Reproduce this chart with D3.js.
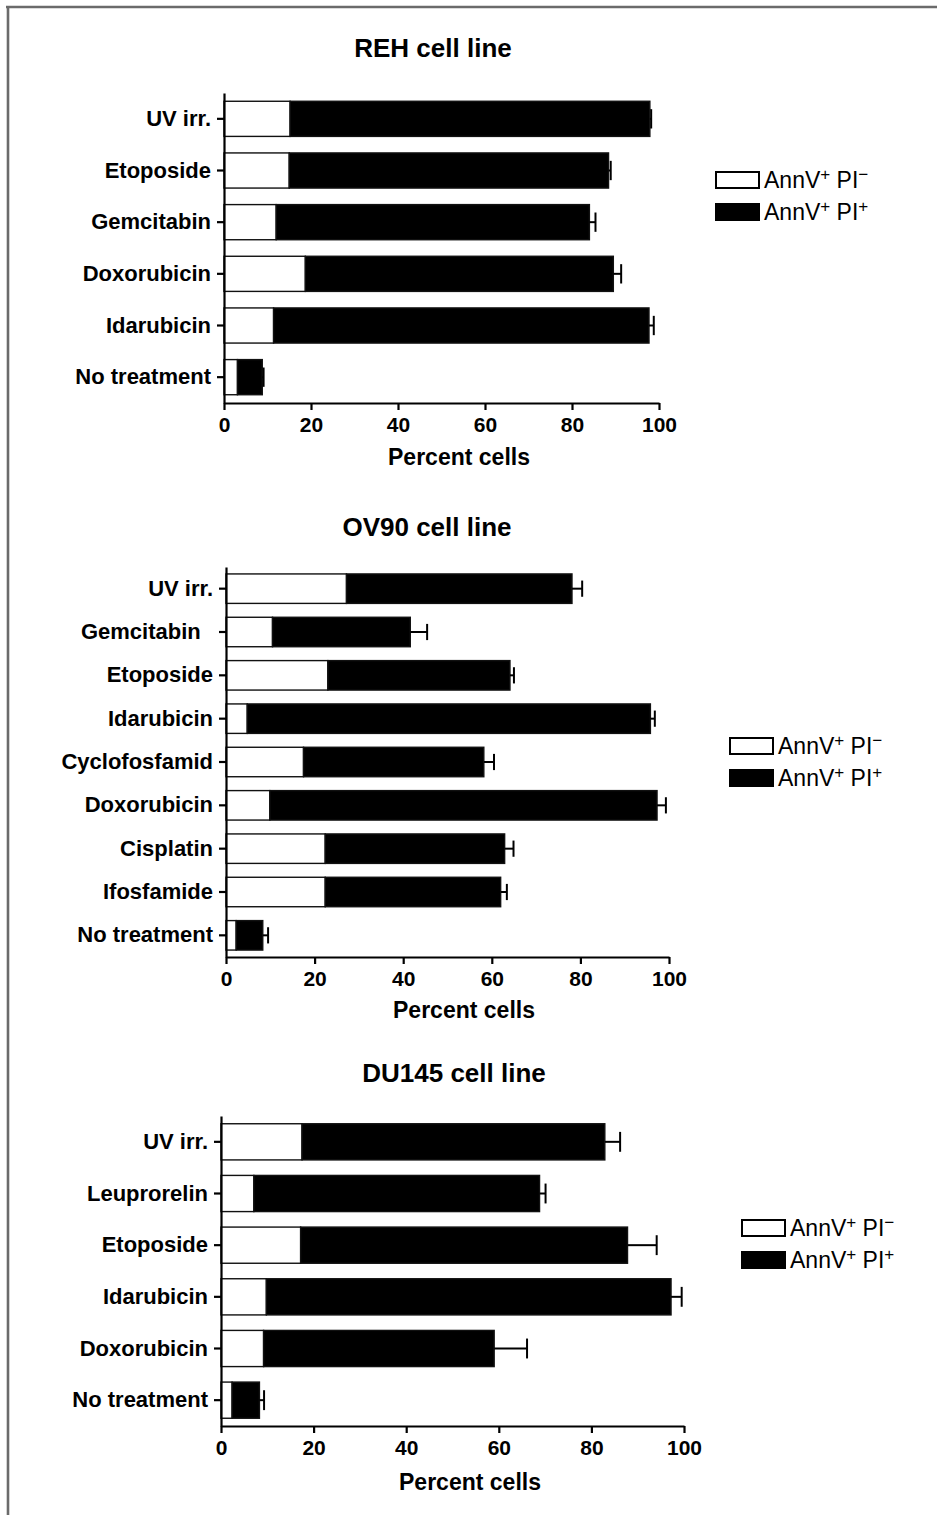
<!DOCTYPE html>
<html>
<head>
<meta charset="utf-8">
<script src="https://cdn.jsdelivr.net/npm/d3@7"></script>
<style>
  html, body { margin: 0; padding: 0; background: #fff; }
  svg { display: block; font-family: "Liberation Sans", Arial, sans-serif; }
  text { white-space: pre; }
</style>
</head>
<body>
<svg id="chart" width="937" height="1515"></svg>
<script>
// ---------- DATA ----------
const tickValues = [0, 20, 40, 60, 80, 100];
const axisTitle = "Percent cells";
const legendLabels = [["AnnV", "+", " PI", "\u2212"], ["AnnV", "+", " PI", "+"]];

const rehTitle = "REH cell line";
const rehCategories = ["UV irr.", "Etoposide", "Gemcitabin", "Doxorubicin", "Idarubicin", "No treatment"];
const rehEarly = [15.2, 15.0, 12.0, 18.7, 11.4, 3.1];   // AnnV+ PI-
const rehLate  = [82.7, 73.4, 72.0, 70.8, 86.3, 5.7];   // AnnV+ PI+
const rehError = [0.3, 0.5, 1.4, 1.8, 1.1, 0.3];

const ov90Title = "OV90 cell line";
const ov90Categories = ["UV irr.", "Gemcitabin  ", "Etoposide", "Idarubicin", "Cyclofosfamid", "Doxorubicin", "Cisplatin", "Ifosfamide", "No treatment"];
const ov90Early = [27.2, 10.5, 23.0, 4.8, 17.5, 9.9, 22.4, 22.4, 2.3];
const ov90Late  = [50.9, 31.1, 41.1, 91.0, 40.7, 87.4, 40.5, 39.6, 6.0];
const ov90Error = [2.3, 3.8, 0.9, 1.0, 2.3, 2.0, 2.0, 1.4, 1.2];

const du145Title = "DU145 cell line";
const du145Categories = ["UV irr.", "Leuprorelin", "Etoposide", "Idarubicin", "Doxorubicin", "No treatment"];
const du145Early = [17.5, 7.1, 17.2, 9.8, 9.2, 2.4];
const du145Late  = [65.4, 61.7, 70.6, 87.4, 49.8, 5.9];
const du145Error = [3.3, 1.3, 6.3, 2.3, 7.1, 1.0];

// ---------- LAYOUT ----------
const panels = [
  { title: rehTitle, cats: rehCategories, early: rehEarly, late: rehLate, err: rehError,
    x0: 224, x1: 659, yTop: 93, yBot: 403, titleX: 433, titleY: 48, axTitleX: 459, axTitleY: 457,
    legX: 716, legY: 172, pad: 0.32 },
  { title: ov90Title, cats: ov90Categories, early: ov90Early, late: ov90Late, err: ov90Error,
    x0: 226, x1: 669, yTop: 567, yBot: 957, titleX: 427, titleY: 527, axTitleX: 464, axTitleY: 1010,
    legX: 730, legY: 738, pad: 0.32 },
  { title: du145Title, cats: du145Categories, early: du145Early, late: du145Late, err: du145Error,
    x0: 221, x1: 684, yTop: 1116, yBot: 1426, titleX: 454, titleY: 1073, axTitleX: 470, axTitleY: 1482,
    legX: 742, legY: 1220, pad: 0.30 }
];

const svg = d3.select("#chart");

// frame lines (top and left)
svg.append("line").attr("x1", 6).attr("x2", 937).attr("y1", 7).attr("y2", 7)
  .attr("stroke", "#6b6b6b").attr("stroke-width", 2.6);
svg.append("line").attr("x1", 8).attr("x2", 8).attr("y1", 6).attr("y2", 1515)
  .attr("stroke", "#6b6b6b").attr("stroke-width", 2.6);

panels.forEach(p => {
  const g = svg.append("g");
  const x = d3.scaleLinear().domain([0, 100]).range([p.x0, p.x1]);
  const y = d3.scaleBand().domain(p.cats).range([p.yTop, p.yBot]).paddingInner(p.pad).paddingOuter(p.pad / 2);

  // title
  g.append("text").attr("x", p.titleX).attr("y", p.titleY).attr("text-anchor", "middle")
    .attr("dominant-baseline", "central").attr("font-size", 26).attr("font-weight", "bold")
    .text(p.title);

  const rows = p.cats.map((c, i) => ({ cat: c, early: p.early[i], late: p.late[i], err: p.err[i] }));
  const stack = d3.stack().keys(["early", "late"])(rows);

  // bars
  const fills = ["#ffffff", "#000000"];
  stack.forEach((layer, li) => {
    g.append("g").selectAll("rect").data(layer).join("rect")
      .attr("x", d => x(d[0]))
      .attr("y", d => y(d.data.cat))
      .attr("width", d => x(d[1]) - x(d[0]))
      .attr("height", y.bandwidth())
      .attr("fill", fills[li])
      .attr("stroke", "#111")
      .attr("stroke-width", 1.4);
  });

  // error bars
  const capH = y.bandwidth() * 0.55;
  const eg = g.append("g").attr("stroke", "#000").attr("stroke-width", 2);
  rows.forEach(r => {
    const tot = r.early + r.late;
    const cy = y(r.cat) + y.bandwidth() / 2;
    eg.append("line").attr("x1", x(tot)).attr("x2", x(tot + r.err)).attr("y1", cy).attr("y2", cy);
    eg.append("line").attr("x1", x(tot + r.err)).attr("x2", x(tot + r.err))
      .attr("y1", cy - capH / 2).attr("y2", cy + capH / 2);
  });

  // x axis
  const xa = g.append("g").attr("transform", `translate(0,${p.yBot})`)
    .call(d3.axisBottom(x).tickValues(tickValues).tickSize(7).tickSizeOuter(0).tickPadding(7));
  xa.selectAll("text").attr("font-size", 21).attr("font-weight", "bold").attr("fill", "#000")
    .attr("font-family", "Liberation Sans, Arial, sans-serif");
  xa.selectAll("line, path").attr("stroke", "#000").attr("stroke-width", 2.2);

  // y axis
  const ya = g.append("g").attr("transform", `translate(${p.x0},0)`)
    .call(d3.axisLeft(y).tickSize(7).tickSizeOuter(0).tickPadding(6));
  ya.selectAll("text").attr("font-size", 22).attr("font-weight", "bold").attr("fill", "#000")
    .attr("font-family", "Liberation Sans, Arial, sans-serif");
  ya.selectAll("line, path").attr("stroke", "#000").attr("stroke-width", 2.2);

  // axis title
  g.append("text").attr("x", p.axTitleX).attr("y", p.axTitleY).attr("text-anchor", "middle")
    .attr("dominant-baseline", "central").attr("font-size", 23).attr("font-weight", "bold")
    .text(axisTitle);

  // legend
  const lg = g.append("g").attr("transform", `translate(${p.legX},${p.legY})`);
  legendLabels.forEach((lab, i) => {
    const yy = i * 32;
    lg.append("rect").attr("x", 0).attr("y", yy).attr("width", 43).attr("height", 16)
      .attr("fill", fills[i]).attr("stroke", "#000").attr("stroke-width", 2);
    const t = lg.append("text").attr("x", 48).attr("y", yy + 16).attr("font-size", 23);
    t.append("tspan").text(lab[0]);
    t.append("tspan").attr("font-size", 17).attr("dy", -8).text(lab[1]);
    t.append("tspan").attr("dy", 8).text(lab[2]);
    t.append("tspan").attr("font-size", 17).attr("dy", -8).text(lab[3]);
  });
});
</script>
</body>
</html>
